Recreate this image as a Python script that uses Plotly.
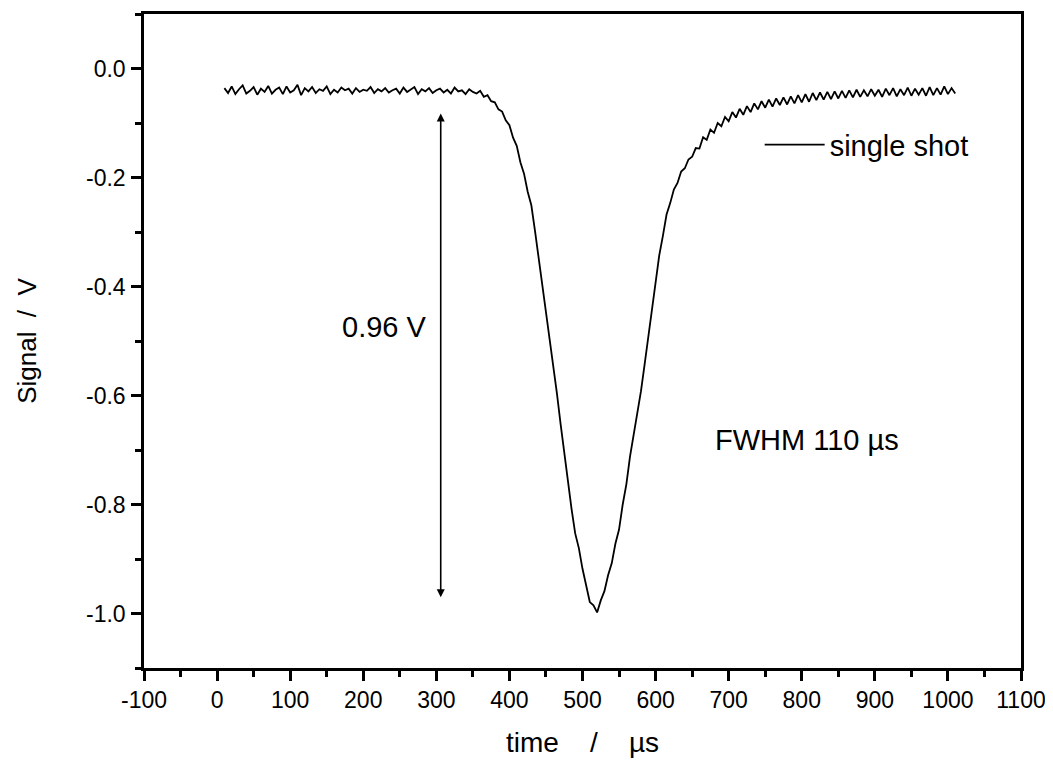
import plotly.graph_objects as go

# time grid (µs) and signal values (V)
time_us = list(range(10, 1011, 5))

baseline = [
    -0.036, -0.045, -0.033, -0.047, -0.038, -0.031, -0.046, -0.041, -0.034, -0.048,
    -0.037, -0.043, -0.032, -0.046, -0.039, -0.035, -0.047, -0.033, -0.044, -0.040,
    -0.030, -0.049, -0.036, -0.042, -0.034, -0.045, -0.038, -0.041, -0.033, -0.047,
    -0.039, -0.044, -0.035, -0.040, -0.037, -0.046, -0.036, -0.043, -0.039, -0.041,
    -0.034, -0.045, -0.038, -0.042, -0.036, -0.044, -0.040, -0.037, -0.046, -0.035,
    -0.043, -0.039, -0.034, -0.047, -0.038, -0.042, -0.036, -0.045, -0.040, -0.037,
    -0.044, -0.039, -0.046, -0.035, -0.042, -0.040, -0.047, -0.038, -0.043,
]
onset = [
    -0.046, -0.041, -0.052, -0.049, -0.060, -0.062, -0.075, -0.079, -0.095,
    -0.104, -0.127, -0.142, -0.172, -0.193, -0.226, -0.251, -0.298, -0.347,
]
dip = [
    -0.402, -0.443, -0.492, -0.547, -0.596, -0.652, -0.703, -0.762, -0.808, -0.853,
    -0.880, -0.918, -0.946, -0.979, -0.985, -0.998, -0.976, -0.959, -0.930, -0.908,
    -0.872, -0.846,
]
rise = [
    -0.800, -0.763, -0.712, -0.672, -0.628, -0.592, -0.543, -0.492, -0.438, -0.396,
    -0.343, -0.307, -0.268, -0.247, -0.222, -0.210, -0.189, -0.183, -0.167, -0.162,
]
tail = [
    -0.146, -0.147, -0.126, -0.131, -0.112, -0.118, -0.100, -0.106, -0.089, -0.097,
    -0.080, -0.090, -0.074, -0.085, -0.069, -0.080, -0.064, -0.075, -0.060, -0.072,
    -0.057, -0.070, -0.055, -0.067, -0.053, -0.066, -0.051, -0.064, -0.049, -0.062,
    -0.047, -0.061, -0.045, -0.058, -0.044, -0.057, -0.043, -0.056, -0.042, -0.055,
    -0.041, -0.054, -0.040, -0.053, -0.039, -0.052, -0.040, -0.051, -0.038, -0.050,
    -0.039, -0.052, -0.037, -0.049, -0.036, -0.051, -0.038, -0.049, -0.035, -0.050,
    -0.037, -0.048, -0.036, -0.050, -0.034, -0.049, -0.036, -0.048, -0.033, -0.047,
    -0.036, -0.046,
]
signal_v = baseline + onset + dip + rise + tail

amplitude_label = "0.96 V"
fwhm_label = "FWHM 110 µs"
arrow_time = 306
arrow_top = -0.08
arrow_bottom = -0.97

x_ticks = list(range(-100, 1101, 100))
x_tick_text = ["-100", "0", "100", "200", "300", "400", "500", "600",
               "700", "800", "900", "1000", "1100"]
y_ticks = [0.0, -0.2, -0.4, -0.6, -0.8, -1.0]
y_tick_text = ["0.0", "-0.2", "-0.4", "-0.6", "-0.8", "-1.0"]

FONT = "Liberation Sans, Arial, sans-serif"
NBSP = "\u00a0"

fig = go.Figure()
fig.add_trace(go.Scatter(
    x=time_us, y=signal_v, mode="lines", name="single shot",
    line=dict(color="black", width=1.8),
))

fig.add_annotation(
    x=arrow_time, y=arrow_bottom, ax=arrow_time, ay=arrow_top,
    xref="x", yref="y", axref="x", ayref="y", text="",
    showarrow=True, arrowhead=2, startarrowhead=2, arrowside="end+start",
    arrowsize=1, startarrowsize=1, arrowwidth=1.6, arrowcolor="black",
)
fig.add_annotation(
    x=290, y=-0.474, xref="x", yref="y", text=amplitude_label, showarrow=False,
    xanchor="right", yanchor="middle", font=dict(family=FONT, size=29, color="black"),
)
fig.add_annotation(
    x=679, y=-0.681, xref="x", yref="y", text=fwhm_label, showarrow=False,
    xanchor="left", yanchor="middle", font=dict(family=FONT, size=29, color="black"),
)

axis_common = dict(
    showgrid=False, zeroline=False, showline=True, linecolor="black", linewidth=2.5,
    mirror=True, ticks="outside", ticklen=10, tickwidth=2.5, tickcolor="black",
    tickfont=dict(family=FONT, size=23, color="black"),
)

fig.update_xaxes(
    range=[-100, 1100], tickvals=x_ticks, ticktext=x_tick_text,
    minor=dict(ticks="outside", dtick=50, ticklen=6, tickwidth=2.5, tickcolor="black"),
    title=dict(text="time    /    µs" + NBSP * 5,
               font=dict(family=FONT, size=28, color="black"), standoff=21),
    **axis_common,
)
fig.update_yaxes(
    range=[-1.1, 0.1], tickvals=y_ticks, ticktext=y_tick_text, ticklabelstandoff=1,
    minor=dict(ticks="outside", dtick=0.1, ticklen=6, tickwidth=2.5, tickcolor="black"),
    title=dict(text="Signal  /  V", font=dict(family=FONT, size=26, color="black"),
               standoff=42),
    **axis_common,
)

fig.update_layout(
    width=1045, height=754,
    margin=dict(l=136, r=32, t=6, b=94, autoexpand=False),
    paper_bgcolor="white", plot_bgcolor="white",
    showlegend=True,
    legend=dict(
        x=0.702, y=0.80, xanchor="left", yanchor="middle",
        itemwidth=60,
        bgcolor="rgba(0,0,0,0)", borderwidth=0,
        font=dict(family=FONT, size=29, color="black"),
    ),
)

fig.write_html("out.html")
